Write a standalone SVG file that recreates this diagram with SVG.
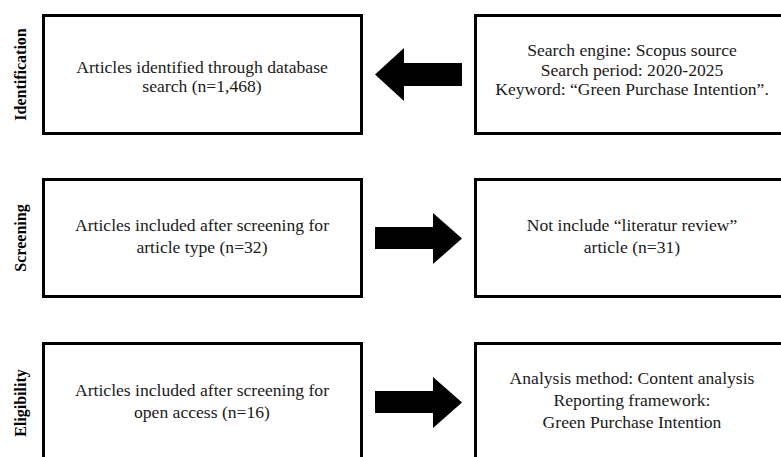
<svg xmlns="http://www.w3.org/2000/svg" width="781" height="457" viewBox="0 0 781 457">
<style>
.box{fill:#fff;stroke:#000;stroke-width:3}
.t{font-family:"Liberation Serif","Times New Roman",serif;font-size:17.6px;fill:#1a1a1a;text-anchor:middle}
.lab{font-family:"Liberation Serif","Times New Roman",serif;font-size:16px;font-weight:bold;fill:#000;text-anchor:middle}
.arr{fill:#000}
</style>
<rect width="781" height="457" fill="#fff"/>
<g id="label-identification"><text class="lab" transform="translate(26,74.5) rotate(-90)">Identification</text></g>
<g id="label-screening"><text class="lab" transform="translate(26,238) rotate(-90)">Screening</text></g>
<g id="label-eligibility"><text class="lab" transform="translate(26,403) rotate(-90)">Eligibility</text></g>
<g id="node-identified">
<rect class="box" x="43.5" y="15.5" width="318" height="118"/>
<text class="t" x="202" y="73">Articles identified through database</text>
<text class="t" x="202" y="92">search (n=1,468)</text>
</g>
<g id="node-search">
<rect class="box" x="475.5" y="15.5" width="320" height="118"/>
<text class="t" x="632" y="56">Search engine: Scopus source</text>
<text class="t" x="632" y="75.5">Search period: 2020-2025</text>
<text class="t" x="632" y="95">Keyword: “Green Purchase Intention”.</text>
</g>
<g id="node-screening">
<rect class="box" x="43.5" y="179.5" width="318" height="117"/>
<text class="t" x="202" y="231">Articles included after screening for</text>
<text class="t" x="202" y="253">article type (n=32)</text>
</g>
<g id="node-excluded">
<rect class="box" x="475.5" y="179.5" width="320" height="117"/>
<text class="t" x="632" y="231">Not include “literatur review”</text>
<text class="t" x="632" y="253">article (n=31)</text>
</g>
<g id="node-eligibility">
<rect class="box" x="43.5" y="343.5" width="318" height="130"/>
<text class="t" x="202" y="396">Articles included after screening for</text>
<text class="t" x="202" y="418">open access (n=16)</text>
</g>
<g id="node-analysis">
<rect class="box" x="475.5" y="343.5" width="320" height="130"/>
<text class="t" x="632" y="384">Analysis method: Content analysis</text>
<text class="t" x="632" y="406">Reporting framework:</text>
<text class="t" x="632" y="428">Green Purchase Intention</text>
</g>
<g id="connectors">
<polygon class="arr" points="375,74.5 404,48 404,63 462,63 462,86 404,86 404,101"/>
<polygon class="arr" points="462,238.5 433,213 433,227 375,227 375,249 433,249 433,264"/>
<polygon class="arr" points="462,402.5 433,377 433,391 375,391 375,413 433,413 433,428"/>
</g>
</svg>
